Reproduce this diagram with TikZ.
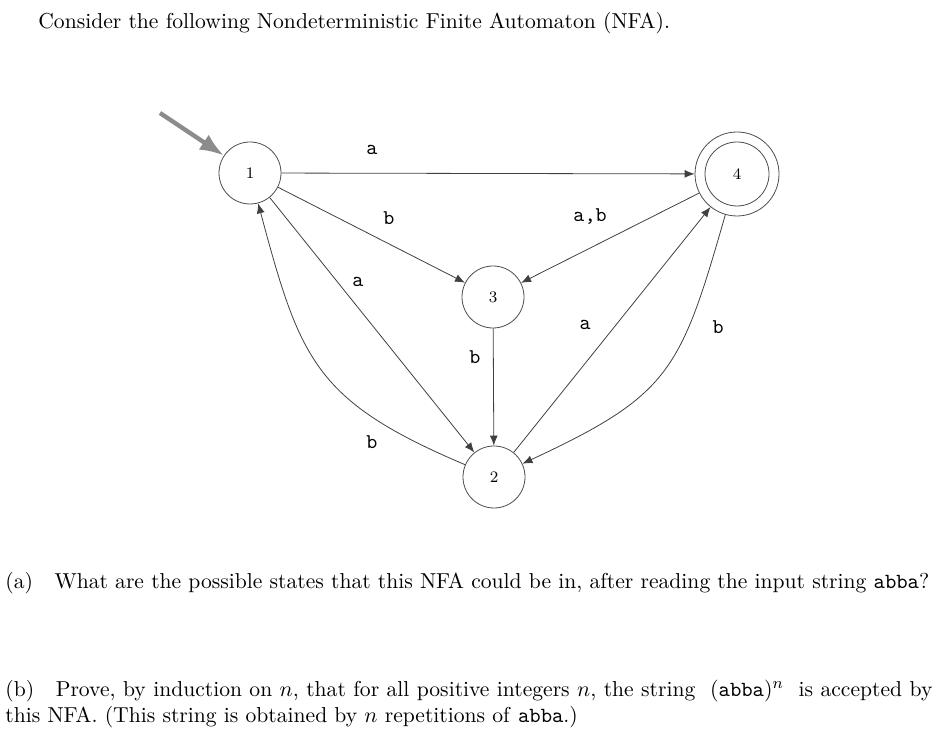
\documentclass[tikz,border=0pt]{standalone}
\usepackage{amsmath,amssymb}
\usepackage{tikz}
\usetikzlibrary{arrows.meta, positioning, calc}

\begin{document}
\begin{tikzpicture}[
        x=0.5pt, y=0.5pt,
        state/.style={circle, draw=black!70, minimum size=31pt, inner sep=0pt, font=\footnotesize},
        final/.style={state, minimum size=42pt},
        edge/.style={-{Latex[length=5pt, width=4pt]}, draw=black!75},
        init/.style={-{Latex[length=12pt, width=9pt]}, line width=2.2pt, draw=black!45},
        lbl/.style={font=\fontsize{10.5pt}{13pt}\selectfont\ttfamily},
        txt/.style={anchor=base west, inner sep=0pt, font=\fontsize{10.8pt}{13pt}\selectfont}
    ]
    \useasboundingbox (0,0) rectangle (940,753);

    \node[txt] (title) at (38,724) {Consider the following Nondeterministic Finite Automaton (NFA).};

    % states
    \node[state] (q1) at (250,580) {1};
    \node[final] (q4) at (737,579) {4};
    \draw[black!70] (q4.center) circle[radius=16pt];
    \node[state] (q3) at (493,456) {3};
    \node[state] (q2) at (494,276) {2};
    \coordinate (start) at (160,640);

    % transitions
    \draw[init] (start) -- (q1);
    \draw[edge] (q1) -- (q4);
    \draw[edge] (q1) -- (q3);
    \draw[edge] (q1) -- (q2);
    \draw[edge] (q2) to[out=157, in=-75, looseness=1.25] (q1);
    \draw[edge] (q3) -- (q2);
    \draw[edge] (q4) -- (q3);
    \draw[edge] (q2) -- (q4);
    \draw[edge] (q4) to[out=-106, in=25, looseness=1.3] (q2);

    % labels
    \node[lbl] (a14) at (372,603) {a};
    \node[lbl] (b13) at (389,535) {b};
    \node[lbl] (a12) at (358,471) {a};
    \node[lbl] (b21) at (372,311) {b};
    \node[lbl] (b32) at (475,396) {b};
    \node[lbl] (ab43) at (590,536) {a,b};
    \node[lbl] (a24) at (585,428) {a};
    \node[lbl] (b42) at (718,426) {b};

    % questions
    \node[txt] (parta) at (5,164) {(a)\quad What are the possible states that this NFA could be in, after reading the input string \texttt{abba}?};
    \node[txt, anchor=north west, text width=463.5pt, align=justify] (partb) at (5,73) {(b)\quad Prove, by induction on $n$, that for all positive integers $n$, the string \ $(\texttt{abba})^n$ \ is accepted by this NFA. (This string is obtained by $n$ repetitions of \texttt{abba}.)};

\end{tikzpicture}
\end{document}
